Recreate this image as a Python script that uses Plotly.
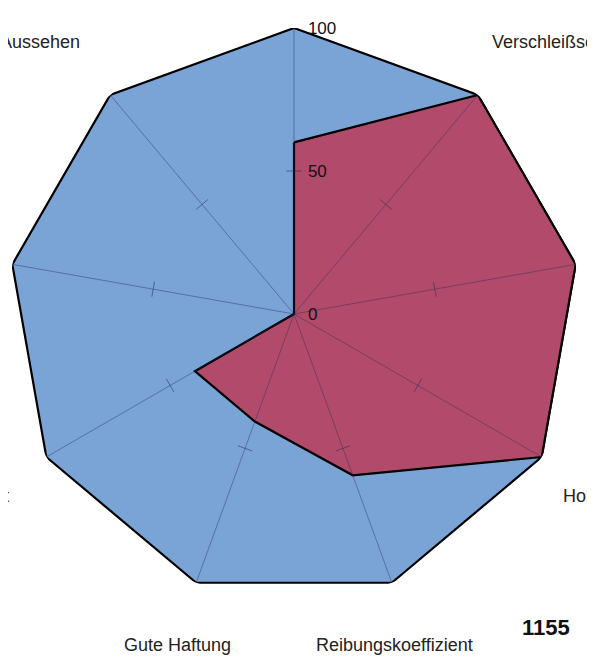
import math
import plotly.graph_objects as go

categories = ["Preis", "Verschleißschutz", "Korrosionsschutz", "Holzschutz",
              "Reibungskoeffizient", "Gute Haftung", "Temperaturbeständigkeit",
              "Schichtdicke", "Aussehen"]
series_max = [100, 100, 100, 100, 100, 100, 100, 100, 100]
series_product = [60, 100, 100, 100, 60, 40, 40, 0, 0]
radial_ticks = [0, 50, 100]
tick_mark_r = [50] * len(categories)
page_label = "1155"

W, H = 595, 659
n = len(categories)
step = 360 / n
angles = [i * step for i in range(n)]
closed = lambda a: list(a) + [a[0]]

# spokes drawn above the fills
spoke_r, spoke_t = [], []
for c in categories:
    spoke_r += [0, 100, None]
    spoke_t += [c, c, None]

fig = go.Figure()
fig.add_trace(go.Scatterpolar(
    r=closed(series_max), theta=closed(categories), mode="lines", fill="toself",
    fillcolor="rgb(122,163,214)", line=dict(color="black", width=2.2), hoverinfo="skip"))
fig.add_trace(go.Scatterpolar(
    r=closed(series_product), theta=closed(categories), mode="lines", fill="toself",
    fillcolor="rgb(177,74,107)", line=dict(color="black", width=2.2), hoverinfo="skip"))
fig.add_trace(go.Scatterpolar(
    r=spoke_r, theta=spoke_t, mode="lines", connectgaps=False,
    line=dict(color="rgba(40,45,85,0.42)", width=1), hoverinfo="skip"))
fig.add_trace(go.Scatterpolar(
    r=tick_mark_r, theta=categories, mode="markers",
    marker=dict(symbol="line-ew", size=11, angle=angles,
                line=dict(color="rgba(40,45,85,0.55)", width=1)),
    hoverinfo="skip"))

# polar geometry (in figure pixels)
R = 286
cx, cy = 286, 306
dom_x = [(cx - R) / W, (cx + R) / W]
dom_y = [1 - (cy + R) / H, 1 - (cy - R) / H]

# category labels outside the polygon
lab_rx, lab_ry = 318, 340
lab_cx = cx - 8
annotations = []
for c, a in zip(categories, angles):
    s, co = math.sin(math.radians(a)), math.cos(math.radians(a))
    px = lab_cx + lab_rx * s
    py = cy - lab_ry * co
    xa = "center" if abs(s) < 0.5 else ("left" if s > 0 else "right")
    ya = "bottom" if co > 0.1 else ("top" if co < -0.1 else "middle")
    annotations.append(dict(text=c, xref="paper", yref="paper", x=px / W, y=1 - py / H,
                            xanchor=xa, yanchor=ya, showarrow=False,
                            font=dict(size=18, color="#222")))
annotations.append(dict(text="<b>" + page_label + "</b>", xref="paper", yref="paper",
                        x=538 / W, y=1 - 619 / H, xanchor="center", yanchor="middle",
                        showarrow=False, font=dict(size=22, color="#111")))

fig.update_layout(
    width=W, height=H, margin=dict(l=0, r=0, t=0, b=0),
    paper_bgcolor="white", showlegend=False,
    font=dict(family="Liberation Sans, Arial, sans-serif", size=15, color="#1a1a1a"),
    polar=dict(
        domain=dict(x=dom_x, y=dom_y),
        bgcolor="rgba(0,0,0,0)",
        angularaxis=dict(direction="clockwise", rotation=90, showline=False,
                         showgrid=False, ticks="", showticklabels=False),
        radialaxis=dict(range=[0, 100], tickvals=radial_ticks, angle=90,
                        showgrid=False, showline=False, ticks="outside", ticklen=10,
                        tickcolor="rgba(0,0,0,0)", tickangle=90,
                        side="clockwise", tickfont=dict(size=17, color="#111"),
                        layer="above traces"),
    ),
    annotations=annotations,
)

fig.write_html("out.html")
